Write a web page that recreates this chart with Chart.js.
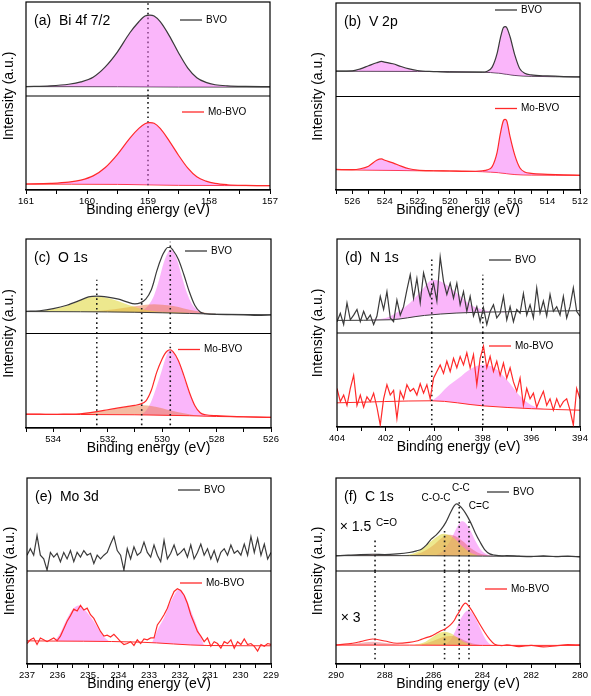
<!DOCTYPE html>
<html>
<head>
<meta charset="utf-8">
<script src="https://cdn.jsdelivr.net/npm/chart.js@4.4.1/dist/chart.umd.min.js"></script>
<style>
  html, body { margin: 0; padding: 0; background: #fff; }
  #wrap { position: relative; width: 591px; height: 696px; overflow: hidden; }
  #wrap canvas { position: absolute; }
</style>
</head>
<body>
<div id="wrap">
  <canvas id="pa" width="295" height="228" style="left:0;top:0"></canvas>
  <canvas id="pb" width="296" height="228" style="left:295px;top:0"></canvas>
  <canvas id="pc" width="295" height="234" style="left:0;top:228px"></canvas>
  <canvas id="pd" width="296" height="234" style="left:295px;top:228px"></canvas>
  <canvas id="pe" width="295" height="234" style="left:0;top:462px"></canvas>
  <canvas id="pf" width="296" height="234" style="left:295px;top:462px"></canvas>
</div>
<script>

// (a) Bi 4f 7/2
const aE = [161,160.6,160.3,160.1,159.9,159.7,159.5,159.3,159.15,159.05,158.97,158.9,158.8,158.65,158.5,158.35,158.2,158.05,157.9,157.7,157.4,157];
const aBVO = [10,10.8,12.5,15,20,31,47,67,79,85,86,85,79,64,46,30,19.5,14.5,12,10.8,10.2,10];
const aMo = [6.4,7,8.3,10.5,15,24,38,55,65.5,70.5,71.7,71,65.5,52,37,23.5,14,9.5,7,5.6,4.9,4.6];
const aBgE = [161,159.5,158.5,157];
const aBgBVO = [10,9.9,9.6,9.5];
const aBgMo = [6.3,6,5,4.6];

// (b) V 2p
const bE = [527,526,525.5,525,524.5,524.2,524,523.5,523,522.5,522,521,520,519,518,517.7,517.4,517.1,516.9,516.7,516.6,516.5,516.3,516,515.7,515.4,515,514,513,512];
const bBVO = [27.1,27.4,29.6,32.9,36.1,37.5,36.8,35,32.1,29.6,27.8,26.7,26,26,26,27.1,31.4,45.8,62.1,74,74.7,73.6,63.9,44,29.6,24.9,23.1,22,21.3,20.9];
const bMo = [22,21.7,22.7,25.5,31.8,33.2,31.8,29,25.5,22.7,21.3,20.6,20.3,19.9,20.6,21.5,25,40,60,74.5,75.5,73.8,57,36.7,23.8,19.2,17.8,16.8,16.1,15.7];
const bBgE = [527,522,518,517,516,515,512];
const bBgBVO = [27.1,26.8,26,25,22.5,21.6,20.9];
const bBgMo = [21.7,20.6,19.6,18.5,16.5,16,15.7];

// (c) O 1s
const cE = [535,534.5,534,533.5,533,532.7,532.4,532,531.6,531.3,531,530.8,530.6,530.4,530.3,530.2,530,529.9,529.8,529.7,529.6,529.4,529.2,529,528.8,528.6,528.4,528,527,526.5,526];
const cBVO = [23.4,24.1,26.3,29.9,35.3,38.8,39.6,38.5,36.3,33.5,31.3,32.4,36.3,46,55,65.8,82,87.4,91,91,88.1,78.4,62.2,44.2,29.9,22.7,20.9,20.1,19.8,19.1,19.8];
const cMo = [14.7,14.6,14.4,14.7,15.1,16,17.3,19.3,21.3,22.7,23.9,25.3,28.4,39.6,49,58.9,73,78.5,81.8,82.8,80.7,71.2,55.4,37.9,23.9,16.1,14,13,11.9,11.5,11.2];
const cBgE = [535,533,531,529,528,526];
const cBgBVO = [23.2,23,22.5,21.2,20.5,19.8];
const cBgMo = [14.5,14.3,14,13,12.2,11.3];
const cYelE = [535,534.5,534,533.5,533,532.7,532.4,532,531.6,531.2,530.8,530.4,530,529.5,529];
const cYelY = [23.3,23.8,25.8,29.4,34.8,38,38.8,37.6,34.2,29.8,26.3,24.2,23,22.4,21.6];
const cOraE = [533,532.5,532,531.5,531,530.6,530.3,530,529.6,529.2,528.8,528.4,528];
const cOraY = [23,23.6,24.8,26.6,28.8,30.5,31,30.5,29,26.5,24,22,20.6];
const cPinkE = [531,530.7,530.5,530.3,530.1,529.95,529.8,529.7,529.6,529.45,529.3,529.1,528.9,528.7,528.5,528.2];
const cPinkY = [22.5,25,30,40,58,74,85,88.5,87,78,63,44,31,25,22,20.8];
const cOraE2 = [533.5,533,532.5,532,531.5,531,530.7,530.4,530,529.6,529.2,528.8,528.4];
const cOraY2 = [14.5,15.3,16.8,19,21.5,23.5,24,23.3,21,18,15.5,13.6,12.7];
const cPinkE2 = [530.8,530.6,530.4,530.2,530,529.85,529.72,529.6,529.4,529.2,529,528.8,528.6,528.4,528.1];
const cPinkY2 = [14,18,28,44,62,76,82.5,80,70,54,37,23.5,16.5,13.8,12.6];

// (d) N 1s, evenly sampled from 404 to 394 eV
const dBVO = [12,21,9,32,14,19,25,12,23,14,19,9,18,39,25,44,16,12,35,19,28,46,62,37,58,32,64,50,39,53,34,81,55,41,53,37,53,30,44,23,39,18,28,12,27,9,23,30,16,21,39,14,28,12,25,21,42,19,30,16,48,21,34,18,41,23,28,19,39,16,28,48,23,18];
const dMo = [41,27,34,23,41,55,23,34,21,32,27,36,21,2,30,45,34,39,9,38,30,45,38,41,34,46,36,45,30,52,59,66,57,70,59,73,63,75,66,79,63,77,45,73,86,63,75,59,70,55,68,52,63,48,38,52,23,41,30,36,21,30,38,23,30,18,30,21,27,30,18,2,41,30];
const dPinkE = [402.6,402,401.5,401,400.5,400.2,400,399.8,399.5,399,398.5,398,397.5,397];
const dPinkY = [14,15.9,22.3,31.8,45.9,54.8,56.5,55.5,51.2,40.6,30,24.7,22.3,21.9];
const dBgE = [404,401.8,400.4,399.1,397.7,394];
const dBgBVO = [13.4,14.1,18.7,21.2,22.3,23.7];
const dPinkE2 = [400.1,399.8,399.5,399,398.5,398,397.5,397,396.5,396,395.5];
const dPinkY2 = [27.9,33.9,41.8,51.8,61.8,66.1,62.5,50,33.9,23.2,19.3];
const dBgE2 = [404,400.1,398,396,394];
const dBgMo = [25.7,27.9,22.5,19.5,17.9];

// (e) Mo 3d, evenly sampled from 237 to 229 eV
const eBVO = [17,24,17,38,17,13,1,20,15,19,10,20,13,22,10,20,15,22,17,19,8,17,13,17,20,29,37,22,17,1,24,13,26,17,20,31,20,15,28,17,10,33,13,19,28,17,20,24,15,28,13,20,29,17,24,13,22,10,20,24,17,28,19,22,17,29,17,37,20,35,17,29,13,20];
const eMo = [22,26,28,21,28,26,24,26,28,25,30,38,46,52,59,57,63,58,60,53,49,42,35,30,31,29,32,28,24,21,22,24,20,26,22,27,26,28,28,42,47,53,60,70,78,81,79,74,65,53,44,35,30,24,28,19,24,22,17,24,22,26,17,24,21,27,21,22,19,14,21,19,22,21];
const eBgE = [237,233.3,231.1,229];
const eBgMo = [24.9,23.5,19.9,19.6];
const ePk1E = [236.1,235.9,235.7,235.5,235.3,235.1,234.9,234.7,234.5,234.3];
const ePk1Y = [24.6,34,48,59,63,58,50,40,30,24];
const ePk2E = [232.9,232.7,232.5,232.3,232.1,232,231.8,231.6,231.4,231.2];
const ePk2Y = [22.9,38,50,66,78,80,72,55,38,20.1];

// (f) C 1s
const fE = [290,289.5,289,288.5,288,287.5,287,286.7,286.5,286.3,286.1,285.9,285.7,285.5,285.3,285.15,285.05,284.95,284.85,284.7,284.5,284.3,284.1,283.9,283.7,283.5,283.2,283,282.5,282,281.5,281,280.5,280];
const fBVO = [16.2,17,17.7,18,17.7,18.4,19.9,21.7,23.5,27.8,34.3,38.6,44.4,52.3,63.2,70.4,72.2,70.4,67.9,62.5,53.1,41.5,31.4,22.7,18.4,17,16.2,16.6,15.9,15.5,16.2,15.5,15.9,15.2];
const fMo = [20.5,21.6,24,26.9,24.7,22.3,23.3,24.7,26.5,28.3,30,32.9,35.7,38.2,42.4,47,52,56,61,65.4,60.1,51.6,42.4,33.9,26.5,21.2,19.8,20.5,18.7,20.1,18.4,19.4,20.8,20.5];
const fBgE = [290,287,284,280];
const fBgBVO = [16.5,16.5,16,15.6];
const fBgMo = [20.3,20.3,20,20];
const fCoE = [289.6,289.1,288.6,288.2,287.7,287.2];
const fCoY = [16.5,17.6,18.3,18,17.2,16.5];
const fYelE = [287.2,286.8,286.4,286.1,285.8,285.6,285.4,285.1,284.8,284.5,284.2];
const fYelY = [16.5,19,25,32,38,40,39,34,26,20,17];
const fRedE = [287,286.5,286,285.7,285.4,285.1,284.8,284.5,284.2,283.9,283.6];
const fRedY = [16.5,20,28,35,39,37.5,32,25,20,17.5,16.2];
const fPinkE = [285.9,285.6,285.3,285.1,284.95,284.85,284.7,284.5,284.3,284.1,283.9,283.7,283.5];
const fPinkY = [17,22,33,44,51,53.5,52,44,33,24,19,16.8,16.2];
const fCoE2 = [289.6,289.2,288.8,288.5,288.2,287.8,287.4];
const fCoY2 = [20.5,22,23.5,24,23.5,22,20.6];
const fYelE2 = [286.8,286.4,286.1,285.8,285.55,285.3,285,284.7,284.4];
const fYelY2 = [20.5,23,28,33,34.6,33,28,23,20.5];
const fRedE2 = [286.5,286,285.6,285.3,285,284.7,284.4,284.1,283.8];
const fRedY2 = [21,25,29,30,28.5,25,22,20.5,20];
const fPinkE2 = [285.5,285.3,285.1,284.9,284.7,284.58,284.45,284.3,284.1,283.9,283.7,283.5];
const fPinkY2 = [21,26,36,48,56,57.6,56,50,39,28,21.5,20];
const fNotes = [['\u00d7 1.5',289.2,47,'top',14],['C=O',287.93,51,'top',10],['C-O-C',285.9,78,'top',10],['C-C',284.88,89,'top',10],['C=C',284.14,70,'top',10],['\u00d7 3',289.4,49,'bot',14]];

const FONT = '"Liberation Sans", Arial, Helvetica, sans-serif';
const BLACK = '#3a3a3a', RED = '#ff2a2a';
const PINK = 'rgba(245,110,245,0.5)';
const YELLOW = 'rgba(222,214,50,0.55)';
const ORANGE = 'rgba(236,120,70,0.5)';
const SALMON = 'rgba(232,90,100,0.45)';

function pts(E, Y) { return E.map((x, i) => ({x: x, y: Y[i]})); }
function span(a, b, n) { return Array.from({length: n}, (_, i) => a + (b - a) * i / (n - 1)); }

const panels = [
  { id: 'pa', title: '(a)  Bi 4f 7/2', min: 157, max: 161, step: 0.5, every: 1, yGap: 17,
    pad: {left: 26, right: 25, top: 2, bottom: 9},
    top: {name: 'BVO', color: BLACK, E: aE, Y: aBVO, smooth: true, fill: PINK, bgE: aBgE, bgY: aBgBVO, dots: [[159, 0, 100]], leg: [154, 18]},
    bot: {name: 'Mo-BVO', color: RED, E: aE, Y: aMo, smooth: true, fill: PINK, bgE: aBgE, bgY: aBgMo, dots: [[159, 5, 100]], leg: [156, 16]} },
  { id: 'pb', title: '(b)  V 2p', min: 512, max: 527, step: 1, every: 2, yGap: 18,
    pad: {left: 41, right: 11, top: 3, bottom: 9},
    top: {name: 'BVO', color: BLACK, E: bE, Y: bBVO, smooth: true, fill: PINK, bgE: bBgE, bgY: bBgBVO, leg: [159, 7]},
    bot: {name: 'Mo-BVO', color: RED, E: bE, Y: bMo, smooth: true, fill: PINK, bgE: bBgE, bgY: bBgMo, leg: [159, 12]} },
  { id: 'pc', title: '(c)  O 1s', min: 526, max: 535, step: 1, every: 2, yGap: 17,
    pad: {left: 26, right: 24, top: 11, bottom: 5},
    top: {name: 'BVO', color: BLACK, E: cE, Y: cBVO, smooth: true, bgE: cBgE, bgY: cBgBVO,
          comps: [[cYelE, cYelY, YELLOW], [cOraE, cOraY, ORANGE], [cPinkE, cPinkY, PINK]],
          dots: [[532.4, 0, 57], [530.75, 0, 57], [529.7, 0, 97]], leg: [159, 12]},
    bot: {name: 'Mo-BVO', color: RED, E: cE, Y: cMo, smooth: true, bgE: cBgE, bgY: cBgMo,
          comps: [[cOraE2, cOraY2, ORANGE], [cPinkE2, cPinkY2, PINK]],
          dots: [[532.4, 3, 100], [530.75, 3, 100], [529.7, 3, 90]], leg: [152, 16]} },
  { id: 'pd', title: '(d)  N 1s', min: 394, max: 404, step: 1, every: 2, yGap: 19,
    pad: {left: 42, right: 11, top: 11, bottom: 6},
    top: {name: 'BVO', color: BLACK, E: span(404, 394, dBVO.length), Y: dBVO, bgE: dBgE, bgY: dBgBVO,
          comps: [[dPinkE, dPinkY, PINK]], dots: [[400.1, 0, 80], [398, 0, 62]], leg: [152, 21]},
    bot: {name: 'Mo-BVO', color: RED, E: span(404, 394, dMo.length), Y: dMo, bgE: dBgE2, bgY: dBgMo,
          comps: [[dPinkE2, dPinkY2, PINK]], dots: [[400.1, 2, 100], [398, 2, 100]], leg: [152, 13]} },
  { id: 'pe', title: '(e)  Mo 3d', min: 229, max: 237, step: 0.5, every: 1, yGap: 17,
    pad: {left: 27, right: 24, top: 16, bottom: 3},
    top: {name: 'BVO', color: BLACK, E: span(237, 229, eBVO.length), Y: eBVO, leg: [151, 12]},
    bot: {name: 'Mo-BVO', color: RED, E: span(237, 229, eMo.length), Y: eMo, bgE: eBgE, bgY: eBgMo,
          comps: [[ePk1E, ePk1Y, PINK], [ePk2E, ePk2Y, PINK]], leg: [153, 12]} },
  { id: 'pf', title: '(f)  C 1s', min: 280, max: 290, step: 1, every: 2, yGap: 18, notes: fNotes,
    pad: {left: 41, right: 11, top: 16, bottom: 3},
    top: {name: 'BVO', color: BLACK, E: fE, Y: fBVO, smooth: true, bgE: fBgE, bgY: fBgBVO,
          comps: [[fCoE, fCoY, SALMON], [fYelE, fYelY, YELLOW], [fRedE, fRedY, SALMON], [fPinkE, fPinkY, PINK]],
          dots: [[288.4, 0, 36], [285.55, 0, 43], [284.95, 0, 76], [284.55, 0, 54]], leg: [151, 14]},
    bot: {name: 'Mo-BVO', color: RED, E: fE, Y: fMo, smooth: true, bgE: fBgE, bgY: fBgMo,
          comps: [[fCoE2, fCoY2, SALMON], [fYelE2, fYelY2, YELLOW], [fRedE2, fRedY2, SALMON], [fPinkE2, fPinkY2, PINK]],
          dots: [[288.4, 5, 100], [285.55, 5, 100], [284.95, 5, 100], [284.55, 5, 100]], leg: [149, 18]} }
];

function addSub(sets, s, axis) {
  let bg = null;
  if (s.bgE) {
    bg = sets.length;
    sets.push({data: pts(s.bgE, s.bgY), yAxisID: axis, borderColor: s.color, borderWidth: 1, fill: false, order: 2, cubicInterpolationMode: 'monotone'});
  }
  (s.comps || []).forEach(c => sets.push({data: pts(c[0], c[1]), yAxisID: axis, borderWidth: 0, borderColor: 'rgba(0,0,0,0)',
    backgroundColor: c[2], fill: {target: bg}, order: 4, cubicInterpolationMode: 'monotone'}));
  (s.dots || []).forEach(d => sets.push({data: [{x: d[0], y: d[1]}, {x: d[0], y: d[2]}], yAxisID: axis,
    borderColor: '#1a1a1a', borderWidth: 1.6, borderDash: [1.6, 3.2], fill: false, order: 1}));
  sets.push({data: pts(s.E, s.Y), yAxisID: axis, borderColor: s.color, borderWidth: 1.2, order: 0,
    fill: s.fill ? {target: bg} : false, backgroundColor: s.fill || 'rgba(0,0,0,0)',
    cubicInterpolationMode: s.smooth ? 'monotone' : 'default', tension: 0});
}

function deco(p) {
  return {
    id: 'deco',
    afterDatasetsDraw(chart) {
      const ctx = chart.ctx, a = chart.chartArea;
      const yT = chart.scales.yTop, yB = chart.scales.yBot, xs = chart.scales.x;
      ctx.save();
      ctx.strokeStyle = '#000';
      ctx.lineWidth = 1.2;
      ctx.strokeRect(a.left, a.top, a.right - a.left, a.bottom - a.top);
      ctx.beginPath();
      ctx.moveTo(a.left, yT.bottom);
      ctx.lineTo(a.right, yT.bottom);
      ctx.stroke();
      ctx.fillStyle = '#000';
      ctx.textBaseline = 'middle';
      ctx.textAlign = 'left';
      ctx.font = '14px ' + FONT;
      ctx.fillText(p.title, a.left + 8, a.top + 19);
      [[p.top, yT], [p.bot, yB]].forEach(([s, sc]) => {
        const lx = a.left + s.leg[0], ly = sc.top + s.leg[1];
        ctx.strokeStyle = s.color;
        ctx.lineWidth = 1.3;
        ctx.beginPath();
        ctx.moveTo(lx, ly);
        ctx.lineTo(lx + 22, ly);
        ctx.stroke();
        ctx.font = '10px ' + FONT;
        ctx.fillText(s.name, lx + 26, ly);
      });
      ctx.textAlign = 'center';
      (p.notes || []).forEach(n => {
        const sc = n[3] === 'top' ? yT : yB;
        ctx.font = n[4] + 'px ' + FONT;
        ctx.fillText(n[0], xs.getPixelForValue(n[1]), sc.getPixelForValue(n[2]));
      });
      ctx.translate(a.left - p.yGap, (a.top + a.bottom) / 2);
      ctx.rotate(-Math.PI / 2);
      ctx.font = '14px ' + FONT;
      ctx.fillText('Intensity (a.u.)', 0, 0);
      ctx.restore();
    }
  };
}

panels.forEach(p => {
  const sets = [];
  addSub(sets, p.top, 'yTop');
  addSub(sets, p.bot, 'yBot');
  new Chart(document.getElementById(p.id), {
    type: 'line',
    data: {datasets: sets},
    options: {
      responsive: false,
      animation: false,
      layout: {padding: p.pad},
      elements: {point: {radius: 0}},
      plugins: {legend: {display: false}, tooltip: {enabled: false}},
      scales: {
        x: {
          type: 'linear', reverse: true, min: p.min, max: p.max,
          afterFit: s => { s.height = 29; },
          ticks: {stepSize: p.step, autoSkip: false, maxRotation: 0, maxTicksLimit: 100, padding: 2, color: '#000',
            font: {family: FONT, size: 9.5},
            callback: v => (Math.abs(v / p.every - Math.round(v / p.every)) < 1e-6 ? String(v) : '')},
          grid: {drawOnChartArea: false, drawTicks: true, tickLength: 4, color: '#000'},
          border: {display: true, color: '#000', width: 1.2},
          title: {display: true, text: 'Binding energy (eV)', color: '#000', font: {family: FONT, size: 14}, padding: 0}
        },
        yBot: {type: 'linear', display: false, position: 'left', stack: 'p', stackWeight: 1, min: 0, max: 100},
        yTop: {type: 'linear', display: false, position: 'left', stack: 'p', stackWeight: 1, min: 0, max: 100}
      }
    },
    plugins: [deco(p)]
  });
});
</script>
</body>
</html>
